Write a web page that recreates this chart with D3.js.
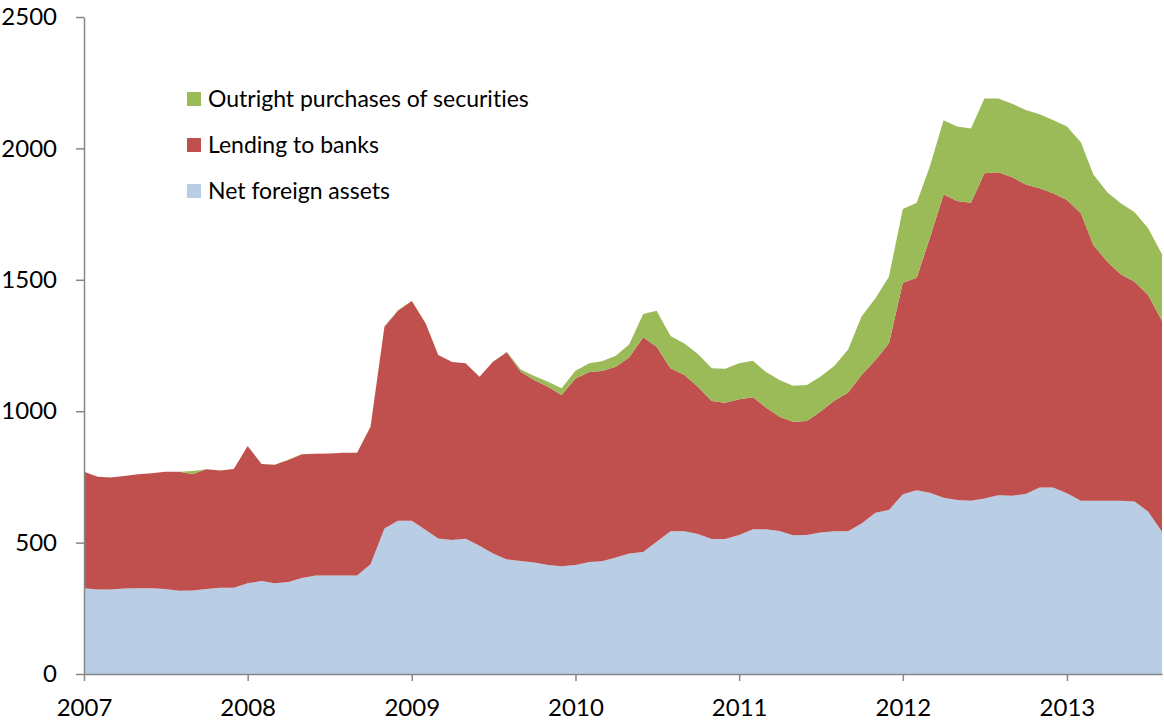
<!DOCTYPE html>
<html>
<head>
<meta charset="utf-8">
<script src="https://cdn.jsdelivr.net/npm/d3@7"></script>
<style>
  body { margin: 0; background: #fff; }
  text { font-family: Lato, "Open Sans", sans-serif; fill: #000; font-variant-ligatures: none; }
</style>
</head>
<body>
<script>
// monthly, Jan 2007 .. Aug 2013
const startMonth = new Date(2007, 0, 1)

const netForeignAssets = [
  326, 322, 322, 325, 326, 326, 323, 317, 318, 323, 328, 328,
  345, 354, 345, 350, 365, 375, 375, 375, 375, 418, 554, 583,
  583, 548, 516, 510, 515, 488, 459, 436, 430, 424, 415, 410,
  415, 426, 429, 443, 459, 464, 503, 543, 543, 533, 514, 514,
  529, 551, 551, 544, 528, 529, 538, 543, 543, 573, 614, 624,
  684, 699, 690, 671, 662, 659, 668, 680, 678, 685, 710, 710,
  688, 659, 659, 659, 659, 656, 618, 541
]
const lendingToBanks = [
  444, 429, 426, 428, 434, 438, 447, 453, 443, 456, 446, 452,
  523, 445, 451, 464, 471, 463, 464, 467, 467, 523, 767, 799,
  836, 786, 698, 677, 667, 643, 729, 788, 720, 695, 678, 652,
  709, 723, 724, 726, 746, 817, 742, 620, 595, 560, 525, 518,
  516, 502, 464, 435, 432, 434, 460, 497, 528, 565, 581, 634,
  805, 809, 968, 1154, 1138, 1134, 1237, 1229, 1212, 1178, 1138, 1119,
  1116, 1094, 973, 910, 862, 837, 824, 802
]
const outrightPurchases = [
  0, 0, 0, 0, 0, 0, 0, 0, 11, 0, 0, 0,
  0, 0, 0, 2, 1, 0, 0, 0, 0, 2, 2, 2,
  1, 1, 0, 0, 0, 0, 0, 2, 9, 15, 19, 25,
  30, 33, 37, 42, 50, 89, 137, 123, 120, 125, 124, 130,
  137, 139, 135, 140, 137, 137, 133, 132, 164, 222, 235, 254,
  280, 285, 272, 282, 283, 283, 285, 281, 280, 283, 282, 279,
  279, 270, 269, 264, 270, 264, 254, 254
]

const seriesNames = ['Net foreign assets', 'Lending to banks', 'Outright purchases of securities']
const seriesColors = ['#b9cde5', '#c0504d', '#9bbb59']
const yTicks = [0, 500, 1000, 1500, 2000, 2500]
const yearTicks = [2007, 2008, 2009, 2010, 2011, 2012, 2013]

let width = 1164
let height = 725
let plotLeft = 84, plotRight = 1162, plotTop = 17, plotBottom = 674

const rows = netForeignAssets.map((v, i) => ({
  date: d3.timeMonth.offset(startMonth, i),
  nfa: v,
  lend: lendingToBanks[i],
  outright: outrightPurchases[i]
}))

const svg = d3.select('body').append('svg').attr('width', width).attr('height', height)

const x = d3.scaleTime()
  .domain([rows[0].date, rows[rows.length - 1].date])
  .range([plotLeft, plotRight])

const y = d3.scaleLinear().domain([0, 2500]).range([plotBottom, plotTop])

const stacked = d3.stack().keys(['nfa', 'lend', 'outright'])(rows)

const area = d3.area()
  .x(d => x(d.data.date))
  .y0(d => y(d[0]))
  .y1(d => y(d[1]))

svg.selectAll('path.layer')
  .data(stacked)
  .enter()
  .append('path')
  .attr('class', 'layer')
  .attr('d', area)
  .attr('fill', (d, i) => seriesColors[i])

// y axis
const yAxis = svg.append('g').attr('transform', `translate(${plotLeft},0)`)
  .call(d3.axisLeft(y).tickValues(yTicks).tickFormat(d3.format('d'))
    .tickSize(8).tickPadding(19).tickSizeOuter(0))
yAxis.select('.domain').attr('stroke', '#868686').attr('stroke-width', 1.5)
yAxis.selectAll('.tick line').attr('stroke', '#868686').attr('stroke-width', 1.5)
yAxis.selectAll('.tick text').attr('font-size', 24).attr('fill', '#000')
  .style('font-family', 'Lato, sans-serif')

// x axis
const xAxis = svg.append('g').attr('transform', `translate(0,${plotBottom})`)
  .call(d3.axisBottom(x)
    .tickValues(yearTicks.map(yr => new Date(yr, 0, 1)))
    .tickFormat(d3.timeFormat('%Y'))
    .tickSize(7).tickPadding(18).tickSizeOuter(0))
xAxis.select('.domain').attr('stroke', '#868686').attr('stroke-width', 1.5)
xAxis.selectAll('.tick line').attr('stroke', '#868686').attr('stroke-width', 1.5)
xAxis.selectAll('.tick text').attr('font-size', 24).attr('fill', '#000')
  .style('font-family', 'Lato, sans-serif')

// legend, top entry = top layer
const legend = svg.append('g').attr('transform', 'translate(187,92)')
const legendItems = seriesNames.slice().reverse()
const legendColors = seriesColors.slice().reverse()

legend.selectAll('rect')
  .data(legendItems)
  .enter()
  .append('rect')
  .attr('x', 0)
  .attr('y', (d, i) => i * 46)
  .attr('width', 14)
  .attr('height', 14)
  .attr('fill', (d, i) => legendColors[i])

legend.selectAll('text')
  .data(legendItems)
  .enter()
  .append('text')
  .attr('x', 21)
  .attr('y', (d, i) => i * 46 + 7)
  .attr('dy', '0.35em')
  .attr('font-size', 23)
  .text(d => d)
</script>
</body>
</html>
